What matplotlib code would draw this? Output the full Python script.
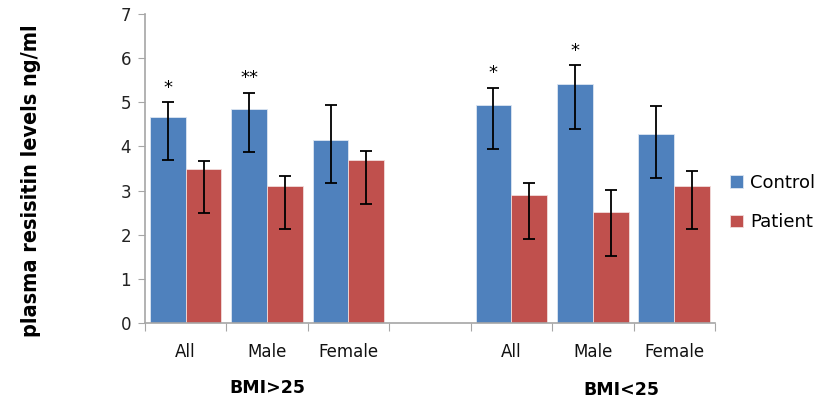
import matplotlib
matplotlib.use("Agg")
import matplotlib.pyplot as plt
import numpy as np

# categories (slot 3 is an empty spacer between the two BMI groups)
categories = ["All", "Male", "Female", "", "All", "Male", "Female"]
groups = ["BMI>25", "BMI<25"]

control = [4.67, 4.85, 4.15, np.nan, 4.94, 5.41, 4.29]
control_hi = [5.00, 5.22, 4.93, np.nan, 5.33, 5.84, 4.92]
control_lo = [3.69, 3.87, 3.16, np.nan, 3.95, 4.39, 3.28]

patient = [3.49, 3.11, 3.69, np.nan, 2.89, 2.51, 3.11]
patient_hi = [3.66, 3.34, 3.90, np.nan, 3.16, 3.01, 3.44]
patient_lo = [2.50, 2.12, 2.70, np.nan, 1.90, 1.52, 2.12]

stars = ["*", "**", "", "", "*", "*", ""]

BLUE = "#4F81BD"
RED = "#C0504D"
GRAY = "#A6A6A6"

fig = plt.figure(figsize=(8.28, 4.05), dpi=100)
ax = fig.add_axes([0.175, 0.2025, 0.6885, 0.763])

x = np.arange(len(categories))
w = 0.44
c = np.array(control)
p = np.array(patient)
c_err = [c - np.array(control_lo), np.array(control_hi) - c]
p_err = [p - np.array(patient_lo), np.array(patient_hi) - p]

ax.bar(x - w / 2, c, w, color=BLUE, edgecolor="#DCE6F2", linewidth=0.6, label="Control")
ax.bar(x + w / 2, p, w, color=RED, edgecolor="#F2DCDB", linewidth=0.6, label="Patient")
ax.errorbar(x - w / 2, c, yerr=c_err, fmt="none", ecolor="black", elinewidth=1.3, capsize=4.5, capthick=1.3)
ax.errorbar(x + w / 2, p, yerr=p_err, fmt="none", ecolor="black", elinewidth=1.3, capsize=4.5, capthick=1.3)

for xi, s, hi in zip(x, stars, control_hi):
    if s:
        ax.text(xi - w / 2, hi + 0.12, s, ha="center", va="bottom", fontsize=13)

ax.set_xlim(-0.5, 6.5)
ax.set_ylim(0, 7)
ax.set_yticks(range(8))
ax.tick_params(axis="y", labelsize=12, length=5, color=GRAY, pad=5, labelcolor="#222222")
ax.set_xticks(np.arange(-0.5, 7, 1))
ax.set_xticklabels([])
ax.tick_params(axis="x", length=6, color=GRAY)
for xi, lab in zip(x, categories):
    ax.text(xi, -0.45, lab, ha="center", va="top", fontsize=12, color="#111111")
for gx, g, gy in zip([1.0, 5.35], groups, [-1.47, -1.52]):
    ax.text(gx, gy, g, ha="center", va="center", fontsize=12.5, fontweight="bold")

for side in ["top", "right"]:
    ax.spines[side].set_visible(False)
for side in ["left", "bottom"]:
    ax.spines[side].set_color(GRAY)
    ax.spines[side].set_linewidth(1.2)

ax.set_ylabel("plasma resisitin levels ng/ml", fontsize=15.5, fontweight="bold",
              fontstretch="condensed", family="DejaVu Sans")
ax.yaxis.set_label_coords(-0.183, 0.46)

ax.legend(loc="center left", bbox_to_anchor=(0.998, 0.39), frameon=False, fontsize=13,
          handlelength=0.7, handleheight=0.7, handletextpad=0.4, labelspacing=1.2)

fig.savefig("out.png", dpi=100)
